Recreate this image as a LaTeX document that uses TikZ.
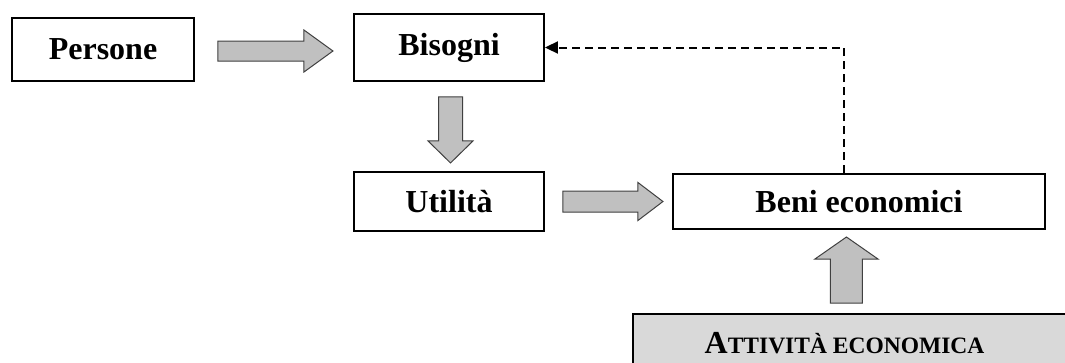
\documentclass[tikz,border=0pt]{standalone}
\usepackage{fontspec}
\setmainfont{Liberation Serif}
\usetikzlibrary{calc,arrows.meta}

\definecolor{arrowgray}{HTML}{C0C0C0}
\definecolor{arrowline}{HTML}{404040}
\definecolor{boxgray}{HTML}{D9D9D9}

\tikzset{
  box/.style={draw=black, line width=1.9pt, fill=white, inner sep=0pt,
    font=\fontsize{32}{36}\selectfont\bfseries},
  graybox/.style={draw=black, line width=1.9pt, fill=boxgray, inner sep=0pt},
  feedback/.style={draw=black, line width=2pt, dash pattern=on 8pt off 5pt,
    -{Triangle[length=13pt,width=12pt]}},
  % block arrow: length / shaft half width / head length / head half width
  pics/barrow/.style args={#1/#2/#3/#4}{code={
    \draw[fill=arrowgray, draw=arrowline, line width=1pt, line join=miter]
      (0,-#2) -- ({#1-#3},-#2) -- ({#1-#3},-#4) -- (#1,0)
      -- ({#1-#3},#4) -- ({#1-#3},#2) -- (0,#2) -- cycle;
  }}
}

\newcommand{\smc}[1]{{\fontsize{23.5}{28}\selectfont #1}}

\begin{document}
\begin{tikzpicture}[x=1pt, y=-1pt]
  \useasboundingbox (0,0) rectangle (1065,362);

  % main boxes
  \node[box, minimum width=182pt, minimum height=63pt] (pers) at (103,49.5) {Persone};
  \node[box, minimum width=190pt, minimum height=67pt] (bis) at (449,47.5) {Bisogni};
  \node[box, minimum width=190pt, minimum height=59pt] (util) at (449,201.5) {Utilità};
  \node[box, minimum width=372pt, minimum height=55pt] (beni) at (859,201.5) {Beni economici};

  % economic activity box, running off the right and bottom edges
  \begin{scope}
    \clip (0,0) rectangle (1065,362);
    \node[graybox, anchor=north west, minimum width=450pt, minimum height=70pt]
      (att) at (632,313) {};
  \end{scope}
  \node[font=\fontsize{32}{36}\selectfont\bfseries, anchor=base] (atttext)
    at (844.5,353) {A\smc{TTIVITÀ ECONOMICA}};

  % block arrows between the boxes
  \pic at ($(pers.east)+(23,1.5)$) {barrow={115/10/29/21}};
  \pic at ($(util.east)+(18,0)$) {barrow={100/10.5/25/19}};
  \pic[rotate=-90] at ($(bis.south)+(1.5,15)$) {barrow={66/12/22/22.5}};
  \pic[rotate=90] at ($(att.north)+(-11.5,-10)$) {barrow={66/16/22/31.5}};

  % feedback from goods back to needs
  \draw[feedback] ($(beni.north)+(-15,0)$) |- (bis.east);
\end{tikzpicture}
\end{document}
